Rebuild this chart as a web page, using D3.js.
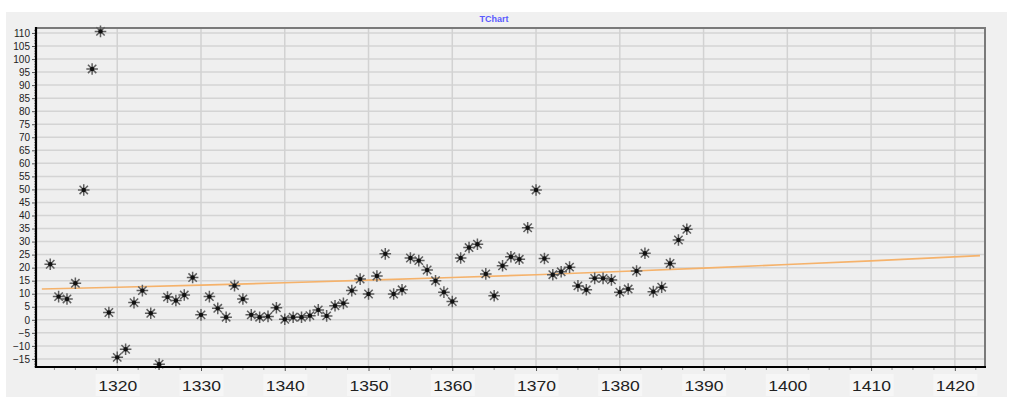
<!DOCTYPE html>
<html><head><meta charset="utf-8">
<script src="https://cdn.jsdelivr.net/npm/d3@7"></script>
<style>
html,body{margin:0;padding:0;background:#fff;}
svg{display:block;font-family:Arial,"Liberation Sans",sans-serif;}
</style></head>
<body><svg id="c" width="1017" height="403"></svg>
<script>
// ---- data ----
const years = [1312,1313,1314,1315,1316,1317,1318,1319,1320,1321,1322,1323,1324,1325,1326,1327,1328,1329,1330,1331,1332,1333,1334,1335,1336,1337,1338,1339,1340,1341,1342,1343,1344,1345,1346,1347,1348,1349,1350,1351,1352,1353,1354,1355,1356,1357,1358,1359,1360,1361,1362,1363,1364,1365,1366,1367,1368,1369,1370,1371,1372,1373,1374,1375,1376,1377,1378,1379,1380,1381,1382,1383,1384,1385,1386,1387,1388];
const values = [21.3,8.9,8.0,14.0,49.8,96.2,110.6,2.8,-14.4,-11.3,6.6,11.2,2.5,-17.0,8.7,7.4,9.5,16.2,1.9,8.9,4.4,1.0,13.1,8.0,1.9,1.0,1.3,4.6,0.2,1.0,1.0,1.6,3.8,1.5,5.4,6.3,11.2,15.6,9.9,16.8,25.3,9.9,11.5,23.7,22.7,19.1,15.0,10.6,7.0,23.7,27.7,29.0,17.6,9.2,20.7,24.2,23.2,35.3,49.8,23.5,17.3,18.4,20.2,13.0,11.5,15.9,15.9,15.3,10.6,11.8,18.7,25.5,10.8,12.5,21.6,30.6,34.7];
const trendX = [1311,1320,1330,1340,1350,1360,1370,1380,1390,1400,1410,1423];
const trendY = [11.8,12.5,13.3,14.2,15.2,16.2,17.3,18.5,19.8,21.2,22.6,24.6];
const xTicks = [1320,1330,1340,1350,1360,1370,1380,1390,1400,1410,1420];
const yTicks = d3.range(-15,111,5);
const title = "TChart";

// ---- layout ----
const svg = d3.select("#c");
const L=36, R=985, T=28, B=367;
const x = d3.scaleLinear().domain([1310.3,1423.6]).range([L,R]);
const y = d3.scaleLinear().domain([-18.1,111.9]).range([B,T]);

// outer panel
svg.append("rect").attr("x",6).attr("y",12).attr("width",1001).attr("height",385).attr("fill","#f0f0f0");
svg.append("rect").attr("x",L).attr("y",T).attr("width",R-L).attr("height",B-T).attr("fill","#efefef");

// title
svg.append("text").attr("x",494).attr("y",22).attr("text-anchor","middle")
  .attr("font-size",9).attr("font-weight","bold").attr("fill","#5a5aff").text(title);

// grid
const g = svg.append("g");
g.selectAll(".hg").data(yTicks).join("line")
  .attr("x1",L).attr("x2",R).attr("y1",d=>y(d)).attr("y2",d=>y(d))
  .attr("stroke","#d4d4d4").attr("stroke-width",1.5);
g.selectAll(".vg").data(xTicks).join("line")
  .attr("x1",d=>x(d)).attr("x2",d=>x(d)).attr("y1",T).attr("y2",B)
  .attr("stroke","#d2d2d2").attr("stroke-width",1.5);

// borders
svg.append("line").attr("x1",L).attr("x2",R+1).attr("y1",T).attr("y2",T).attr("stroke","#7a7a7a").attr("stroke-width",2);
svg.append("line").attr("x1",R).attr("x2",R).attr("y1",T).attr("y2",B).attr("stroke","#7a7a7a").attr("stroke-width",2);

// trend line
svg.append("path").datum(trendX.map((d,i)=>[d,trendY[i]]))
  .attr("d",d3.line().x(d=>x(d[0])).y(d=>y(d[1])))
  .attr("fill","none").attr("stroke","#f5b26b").attr("stroke-width",1.6);

// points (star markers)
const r=5.8, r2=r*0.72;
const starPath = `M${-r},0L${r},0M0,${-r}L0,${r}M${-r2},${-r2}L${r2},${r2}M${-r2},${r2}L${r2},${-r2}`;
const pts = svg.append("g").selectAll("g").data(years.map((d,i)=>[d,values[i]])).join("g")
  .attr("transform",d=>`translate(${x(d[0])},${y(d[1])})`);
pts.append("path").attr("d",starPath).attr("stroke","#5e5e5e").attr("stroke-width",1.5).attr("fill","none");
pts.append("circle").attr("r",2.2).attr("fill","#111");

// y axis
const yAx = d3.axisLeft(y).tickValues(yTicks).tickSize(4).tickPadding(2);
const ya = svg.append("g").attr("transform",`translate(${L},0)`).call(yAx);
ya.select(".domain").remove();
ya.selectAll("text").attr("font-size",10).attr("fill","#222").attr("font-family","Arial,'Liberation Sans',sans-serif");
ya.selectAll(".tick line").attr("stroke","#555");
svg.append("g").selectAll("line").data(d3.range(-18,112,1).filter(v=>v%5!==0)).join("line")
  .attr("x1",L-2).attr("x2",L).attr("y1",d=>y(d)).attr("y2",d=>y(d)).attr("stroke","#777").attr("stroke-width",0.8);

// x axis
const xAx = d3.axisBottom(x).tickValues(xTicks).tickSize(4).tickPadding(6).tickFormat(d3.format("d"));
const xa = svg.append("g").attr("transform",`translate(0,${B})`).call(xAx);
xa.select(".domain").remove();
xa.selectAll(".tick line").attr("stroke","#555");
xa.selectAll(".tick").each(function(){
  const t=d3.select(this);
  t.insert("rect","text").attr("x",-22).attr("y",7).attr("width",44).attr("height",22).attr("fill","#f6f6f6");
});
xa.selectAll("text").attr("font-size",15).attr("fill","#222").attr("dy","0.9em")
  .attr("textLength",39).attr("lengthAdjust","spacingAndGlyphs")
  .attr("font-family","Arial,'Liberation Sans',sans-serif");
svg.append("g").selectAll("line").data(d3.range(1312.5,1423,2.5).filter(v=>v%10!==0)).join("line")
  .attr("x1",d=>x(d)).attr("x2",d=>x(d)).attr("y1",B).attr("y2",B+3).attr("stroke","#777").attr("stroke-width",0.8);

// axis lines
svg.append("line").attr("x1",L).attr("x2",L).attr("y1",T-1).attr("y2",B+1).attr("stroke","#000").attr("stroke-width",2.2);
svg.append("line").attr("x1",L-1).attr("x2",R+1).attr("y1",B).attr("y2",B).attr("stroke","#000").attr("stroke-width",2.2);
</script></body></html>
